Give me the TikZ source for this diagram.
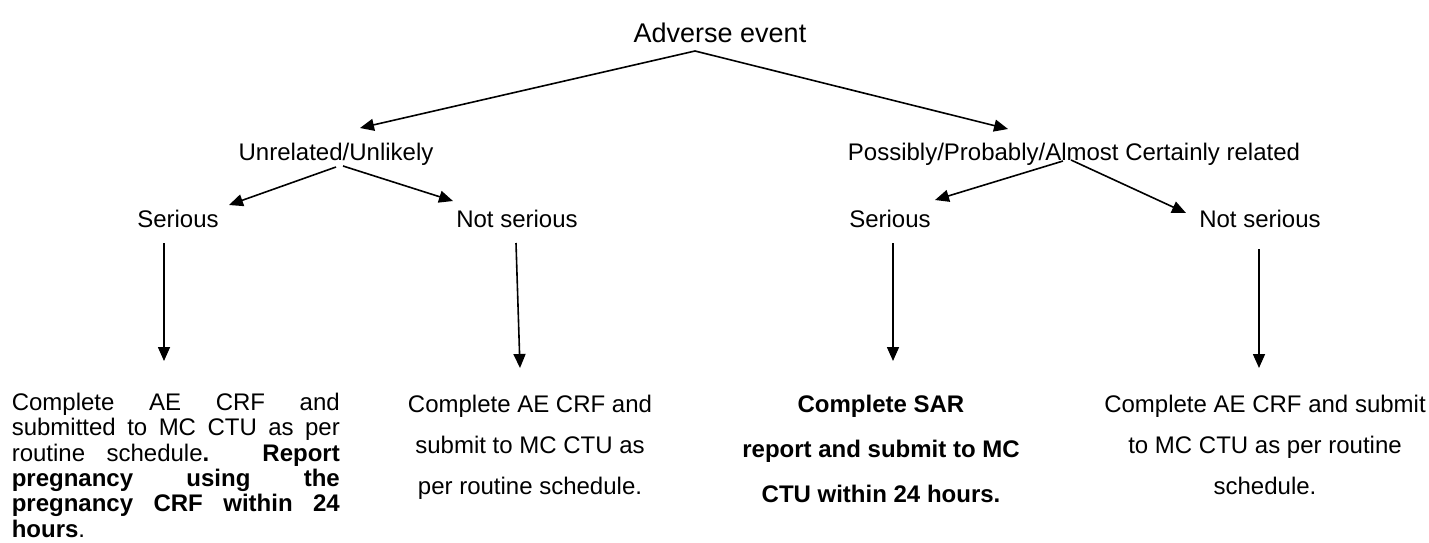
\documentclass[tikz,border=0pt]{standalone}
\usepackage{fontspec}
\setmainfont{Liberation Sans}
\usetikzlibrary{arrows.meta}
\tikzset{
  headtext/.style={inner sep=0pt,anchor=base,font=\fontsize{12}{14}\selectfont},
  bodytext/.style={inner sep=0pt,anchor=north,align=center,font=\fontsize{12}{20.5}\selectfont},
}
\begin{document}
\begin{tikzpicture}[x=0.5pt,y=-0.5pt,>={Triangle[length=7pt,width=6pt]},line width=0.8pt]
\useasboundingbox (0,0) rectangle (1429,542);
%\draw (0,0) rectangle (1429,542);
% first level
\node[headtext,font=\fontsize{13.5}{16}\selectfont] (ae) at (720,42) {Adverse event};
\node[headtext] (unrel) at (336,160) {Unrelated/Unlikely};
\node[headtext] (poss) at (1074,160) {Possibly/Probably/Almost Certainly related};
% second level
\node[headtext] (unrelser) at (178,227) {Serious};
\node[headtext] (unrelnot) at (517,227) {Not serious};
\node[headtext] (possser) at (890,227) {Serious};
\node[headtext] (possnot) at (1260,227) {Not serious};
% what to do
\node[inner sep=0pt,anchor=north west,align=left,font=\fontsize{12}{12.7}\selectfont] (todo1) at (11,392)
  {\makebox[164pt][s]{Complete AE CRF and}\\
   \makebox[164pt][s]{submitted to MC CTU as per}\\
   \makebox[164pt][s]{routine schedule\textbf{. Report}}\\
   \makebox[164pt][s]{\textbf{pregnancy using the}}\\
   \makebox[164pt][s]{\textbf{pregnancy CRF within 24}}\\
   \textbf{hours}.};
\node[bodytext] (todo2) at (530,394) {Complete AE CRF and\\submit to MC CTU as\\per routine schedule.};
\node[bodytext,font=\fontsize{12}{22.5}\selectfont\bfseries] (todo3) at (881,394) {Complete SAR\\report and submit to MC\\CTU within 24 hours.};
\node[bodytext] (todo4) at (1265,394) {Complete AE CRF and submit\\to MC CTU as per routine\\schedule.};
% arrows
\coordinate (aefork) at (695,51);
\coordinate (unreltip) at (360,128);
\coordinate (posstip) at (1008,129);
\draw[->] (aefork) -- (unreltip);
\draw[->] (aefork) -- (posstip);
\coordinate (unrelforkl) at (336,167);
\coordinate (unrelforkr) at (343,166);
\coordinate (possforkl) at (1063,161);
\coordinate (possforkr) at (1071,160);
\draw[->] (unrelforkl) -- (229,205) coordinate (unrelsertip);
\draw[->] (unrelforkr) -- (453,201) coordinate (unrelnottip);
\draw[->] (possforkl) -- (935,200) coordinate (possssertip);
\draw[->] (possforkr) -- (1186,213) coordinate (possnottip);
\draw[->] (164,243) coordinate (a1) -- (164,361) coordinate (b1);
\draw[->] (516,243) coordinate (a2) -- (520,368) coordinate (b2);
\draw[->] (893,243) coordinate (a3) -- (893,361) coordinate (b3);
\draw[->] (1259,249) coordinate (a4) -- (1259,368) coordinate (b4);
\end{tikzpicture}
\end{document}
